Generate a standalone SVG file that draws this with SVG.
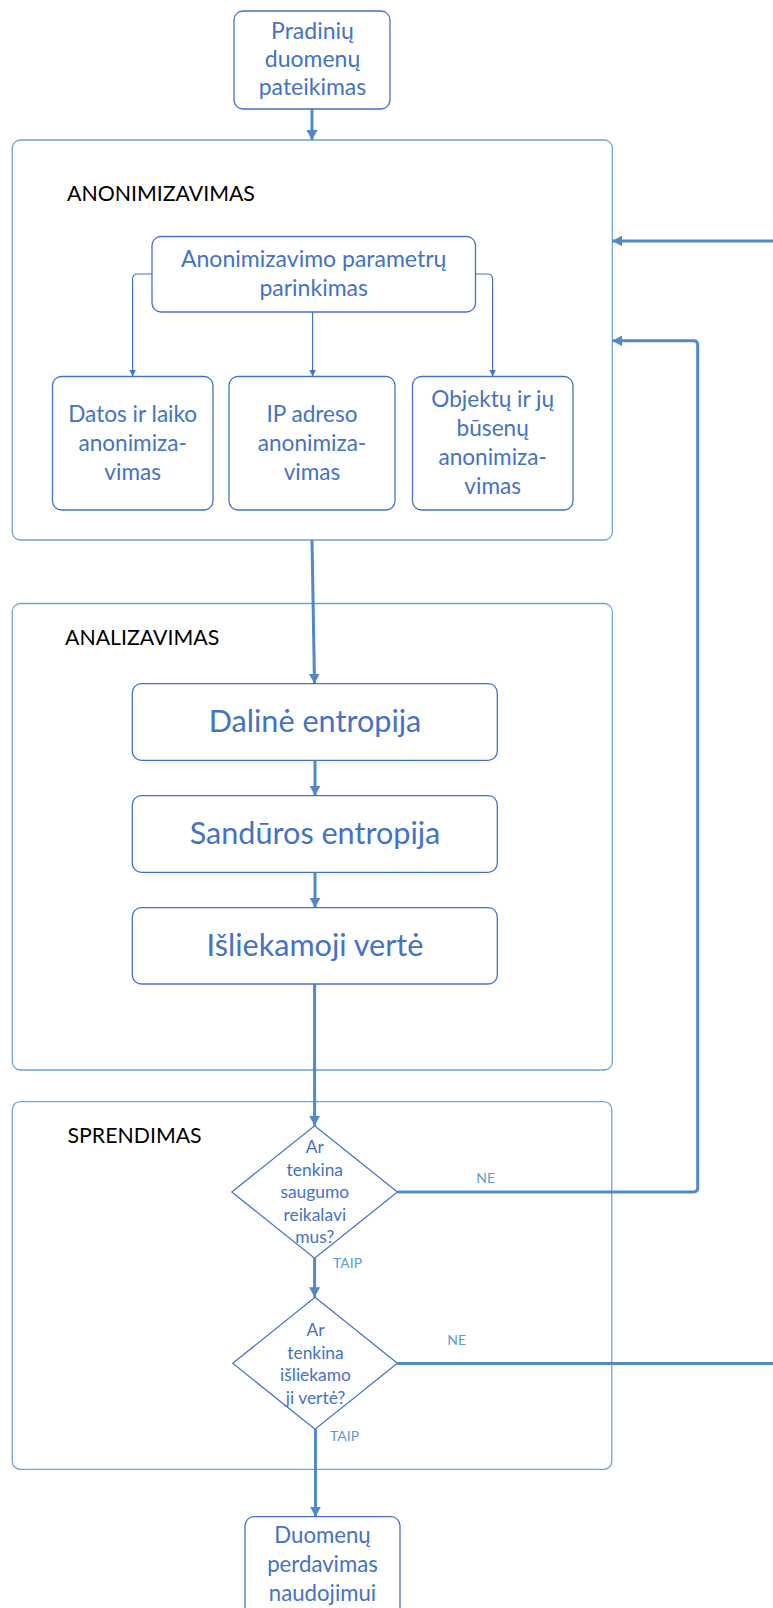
<svg xmlns="http://www.w3.org/2000/svg" width="773" height="1608" viewBox="0 0 773 1608">
  <style>
    .bg { fill: #ffffff; }
    .sec { fill: none; stroke: #6fa3d8; stroke-width: 1.3; }
    .node { fill: #ffffff; stroke: #4472c4; stroke-width: 1.3; }
    .dec { fill: #ffffff; stroke: #4472c4; stroke-width: 1.2; }
    .t { font-family: Lato, "Open Sans", sans-serif; fill: #4472c4; text-anchor: middle; }
    .title { font-family: Lato, "Open Sans", sans-serif; fill: #000000; font-size: 21.3px; }
    .lbl { font-family: Lato, "Open Sans", sans-serif; fill: #5b9bd5; font-size: 14px; }
    .c-thick { fill: none; stroke: #5089c6; stroke-width: 3; }
    .c-thin { fill: none; stroke: #4472c4; stroke-width: 1.2; }
    .f23 { font-size: 23px; }
    .f22 { font-size: 22.2px; }
    .f22b { font-size: 22.6px; }
    .f30 { font-size: 30.6px; }
    .f17 { font-size: 17.4px; }
  </style>
  <defs>
    <marker id="ah" markerUnits="userSpaceOnUse" markerWidth="11" markerHeight="11" refX="10" refY="5.5" orient="auto">
      <path d="M0,0 L10,5.5 L0,11 z" fill="#5089c6"/>
    </marker>
    <marker id="ahs" markerUnits="userSpaceOnUse" markerWidth="7" markerHeight="7" refX="7" refY="3.5" orient="auto">
      <path d="M0,0 L7,3.5 L0,7 z" fill="#4472c4"/>
    </marker>
  </defs>
  <rect class="bg" x="0" y="0" width="773" height="1608"/>

  <!-- section frames -->
  <g id="sec-anonimizavimas">
    <rect class="sec" x="12.3" y="140" width="600" height="400" rx="8"/>
    <text class="title" x="67" y="201">ANONIMIZAVIMAS</text>
  </g>
  <g id="sec-analizavimas">
    <rect class="sec" x="12.3" y="603.5" width="600" height="466.5" rx="8"/>
    <text class="title" x="65" y="645">ANALIZAVIMAS</text>
  </g>
  <g id="sec-sprendimas">
    <rect class="sec" x="12.3" y="1101.7" width="599.5" height="367.6" rx="8"/>
    <text class="title" x="67.5" y="1143.3">SPRENDIMAS</text>
  </g>

  <!-- connectors -->
  <g id="connectors">
    <path class="c-thick" d="M312,109 V140" marker-end="url(#ah)"/>
    <path class="c-thin" d="M152,274 H137.6 Q132.6,274 132.6,279 V376.5" marker-end="url(#ahs)"/>
    <path class="c-thin" d="M312.6,312 V376.5" marker-end="url(#ahs)"/>
    <path class="c-thin" d="M475.5,274 H487.6 Q492.6,274 492.6,279 V376.5" marker-end="url(#ahs)"/>
    <path class="c-thick" d="M312,540 L314.5,683.7" marker-end="url(#ah)"/>
    <path class="c-thick" d="M315,760.3 V795.7" marker-end="url(#ah)"/>
    <path class="c-thick" d="M315,872.3 V907.7" marker-end="url(#ah)"/>
    <path class="c-thick" d="M314.6,984 V1125.7" marker-end="url(#ah)"/>
    <path class="c-thick" d="M314.6,1258.3 V1297.3" marker-end="url(#ah)"/>
    <path class="c-thick" d="M397.4,1192 H693.5 Q697.7,1192 697.7,1187.8 V345 Q697.7,340.8 693.5,340.8 H612.3" marker-end="url(#ah)"/>
    <path class="c-thick" d="M397.4,1363.5 H773"/>
    <path class="c-thick" d="M773,241 H612.3" marker-end="url(#ah)"/>
    <path class="c-thick" d="M315.5,1429.3 V1516.7" marker-end="url(#ah)"/>
    <text class="lbl" x="476.3" y="1183.3">NE</text>
    <text class="lbl" x="447.2" y="1345">NE</text>
    <text class="lbl" x="333" y="1268.3">TAIP</text>
    <text class="lbl" x="330" y="1441">TAIP</text>
  </g>

  <!-- nodes -->
  <g id="n-pradiniai">
    <rect class="node" x="234" y="11" width="156" height="98" rx="9"/>
    <text class="t f23" x="312.5" y="39.3">Pradinių</text>
    <text class="t f23" x="312.5" y="66.7">duomenų</text>
    <text class="t f23" x="312.5" y="95">pateikimas</text>
  </g>
  <g id="n-parametrai">
    <rect class="node" x="152" y="236.5" width="323.5" height="75.5" rx="9"/>
    <text class="t f23" x="313.7" y="266.7">Anonimizavimo parametrų</text>
    <text class="t f23" x="313.7" y="295.7">parinkimas</text>
  </g>
  <g id="n-datos">
    <rect class="node" x="52.5" y="376.5" width="160.5" height="133.5" rx="9"/>
    <text class="t f22b" x="132.7" y="421.7">Datos ir laiko</text>
    <text class="t f22b" x="132.7" y="450.7">anonimiza-</text>
    <text class="t f22b" x="132.7" y="479.5">vimas</text>
  </g>
  <g id="n-ip">
    <rect class="node" x="229" y="376.5" width="166" height="133.5" rx="9"/>
    <text class="t f22b" x="312" y="421.7">IP adreso</text>
    <text class="t f22b" x="312" y="450.7">anonimiza-</text>
    <text class="t f22b" x="312" y="479.5">vimas</text>
  </g>
  <g id="n-objektai">
    <rect class="node" x="412.5" y="376.5" width="160.5" height="133.5" rx="9"/>
    <text class="t f22b" x="492.7" y="406.7">Objektų ir jų</text>
    <text class="t f22b" x="492.7" y="436">būsenų</text>
    <text class="t f22b" x="492.7" y="465">anonimiza-</text>
    <text class="t f22b" x="492.7" y="494">vimas</text>
  </g>
  <g id="n-daline">
    <rect class="node" x="132.3" y="683.7" width="365" height="76.6" rx="9"/>
    <text class="t f30" x="315" y="732.3">Dalinė entropija</text>
  </g>
  <g id="n-sanduros">
    <rect class="node" x="132.3" y="795.7" width="365" height="76.6" rx="9"/>
    <text class="t f30" x="315" y="844.3">Sandūros entropija</text>
  </g>
  <g id="n-isliekamoji">
    <rect class="node" x="132.3" y="907.7" width="365" height="76.3" rx="9"/>
    <text class="t f30" x="315" y="955.7">Išliekamoji vertė</text>
  </g>
  <g id="d-saugumas">
    <polygon class="dec" points="314.6,1125.7 397.4,1192 314.6,1258.3 231.8,1192"/>
    <text class="t f17" x="314.8" y="1153.3">Ar</text>
    <text class="t f17" x="314.8" y="1176">tenkina</text>
    <text class="t f17" x="314.8" y="1197.7">saugumo</text>
    <text class="t f17" x="314.8" y="1220.7">reikalavi</text>
    <text class="t f17" x="314.8" y="1243.3">mus?</text>
  </g>
  <g id="d-verte">
    <polygon class="dec" points="315,1297.3 397.4,1363.3 315,1429.3 232.7,1363.3"/>
    <text class="t f17" x="315.5" y="1336">Ar</text>
    <text class="t f17" x="315.5" y="1359">tenkina</text>
    <text class="t f17" x="315.5" y="1381">išliekamo</text>
    <text class="t f17" x="315.5" y="1404">ji vertė?</text>
  </g>
  <g id="n-perdavimas">
    <rect class="node" x="245" y="1516.7" width="155" height="100" rx="9"/>
    <text class="t f22" x="322.5" y="1543.3">Duomenų</text>
    <text class="t f22" x="322.5" y="1572.3">perdavimas</text>
    <text class="t f22" x="322.5" y="1600.7">naudojimui</text>
  </g>
</svg>
